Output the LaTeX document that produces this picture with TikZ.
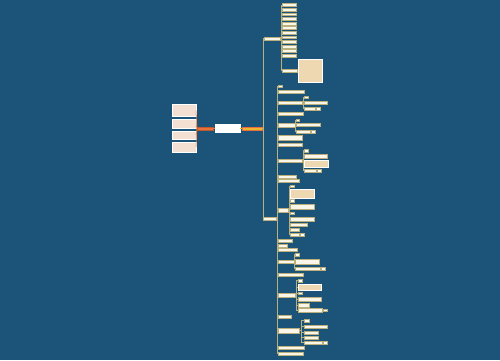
\documentclass[tikz,border=0pt]{standalone}
\usepackage{tikz}

\definecolor{bgc}{RGB}{27,84,120}
\definecolor{linec}{RGB}{186,176,126}
\definecolor{orangec}{RGB}{232,112,58}
\definecolor{yellowc}{RGB}{242,178,52}
\definecolor{creamc}{RGB}{250,246,234}
\definecolor{beigec}{RGB}{238,216,178}
\definecolor{pinkc}{RGB}{244,224,210}

\begin{document}
\begin{tikzpicture}[x=1pt,y=-1pt,
  link/.style={draw=linec,line width=0.7pt},
  box/.style={anchor=west,inner sep=0pt,outer sep=0pt,draw=linec,line width=0.4pt,fill=creamc},
  tag/.style={box,minimum width=4pt,minimum height=2.5pt,fill=white},
  note/.style={box,fill=beigec,draw=white,line width=0.6pt},
  item/.style={box,minimum height=3pt}]
\fill[bgc] (0,0) rectangle (500,360);
\useasboundingbox (0,0) rectangle (500,360);

% centre and first level
\node[box,fill=white,draw=white,minimum width=25pt,minimum height=8pt] (c) at (215,128.5) {};
\node[box,fill=orangec,draw=orangec!80!black,minimum width=16pt,minimum height=3.5pt] (l) at (197,128.5) {};
\node[box,fill=yellowc,draw=orangec,minimum width=20pt,minimum height=3.5pt] (r) at (242,128.5) {};
\draw[orangec,line width=0.7pt] (c.west) -- (l.east);
\draw[yellowc,line width=0.7pt] (c.east) -- (r.west);

% left notes
\node[note,fill=pinkc,minimum width=24pt,minimum height=12pt] (lb1) at (172,110.5) {};
\node[note,fill=pinkc,minimum width=24pt,minimum height=9pt] (lb2) at (172,123.5) {};
\node[note,fill=pinkc,minimum width=24pt,minimum height=8pt] (lb3) at (172,135) {};
\node[note,fill=pinkc,minimum width=24pt,minimum height=10pt] (lb4) at (172,147) {};
\foreach \n in {lb1,lb2,lb3,lb4}
  \draw[orangec,line width=0.5pt] (l.west) -- (\n.east);

% two branches
\node[item,minimum width=16pt] (t1) at (264,38.5) {};
\node[item,minimum width=13pt] (t2) at (263,218.5) {};
\foreach \n in {t1,t2}
  \draw[link] (r.east) -- ++(1,0) |- (\n.west);

% upper list
\foreach \i in {0,...,11}
  \node[item,minimum width=14pt,minimum height=2.8pt] (u\i) at (282,{5+4.6*\i}) {};
\node[item,minimum width=15pt] (u12) at (282,70.5) {};
\node[note,minimum width=24pt,minimum height=23pt] (un) at (298,70.5) {};
\foreach \i in {0,...,12}
  \draw[link] (t1.east) -- ++(1,0) |- (u\i.west);
\draw[link] (u12.east) -- (un.west);

% lower list
\node[tag] (a1) at (278,86) {};
\node[item,minimum width=26pt] (a2) at (278,91.5) {};
\node[item,minimum width=24pt] (a3) at (278,102.5) {};
\node[item,minimum width=25pt] (a4) at (278,113.5) {};
\node[item,minimum width=17pt,minimum height=3.5pt] (a5) at (278,125) {};
\node[item,minimum width=24pt,minimum height=5pt] (a6) at (278,137.5) {};
\node[item,minimum width=24pt] (a7) at (278,144.5) {};
\node[item,minimum width=24pt,minimum height=3.5pt] (a8) at (278,160.5) {};
\node[item,minimum width=18pt] (a9) at (278,176.5) {};
\node[item,minimum width=21pt] (a10) at (278,180.5) {};
\node[item,minimum width=10pt,minimum height=4pt] (a11) at (278,210.5) {};
\node[item,minimum width=14pt] (a12) at (278,240.5) {};
\node[item,minimum width=9pt] (a13) at (278,245.5) {};
\node[item,minimum width=19pt] (a14) at (278,249.5) {};
\node[item,minimum width=16pt,minimum height=3.5pt] (a15) at (278,261.5) {};
\node[item,minimum width=25pt] (a16) at (278,274.5) {};
\node[item,minimum width=17pt,minimum height=4pt] (a17) at (278,295) {};
\node[item,minimum width=13pt] (a18) at (278,316.5) {};
\node[item,minimum width=21pt,minimum height=4.5pt] (a19) at (278,330.5) {};
\node[item,minimum width=26pt] (a20) at (278,347.5) {};
\node[item,minimum width=25pt] (a21) at (278,353.5) {};
\foreach \i in {1,...,21}
  \draw[link] (t2.east) -- ++(1,0) |- (a\i.west);

% third level
\node[tag] (a3a) at (304,97) {};
\node[item,minimum width=23pt] (a3b) at (304,102.5) {};
\node[item,minimum width=11pt] (a3c) at (304,108.5) {};
\node[tag] (a3d) at (316,108.5) {};
\foreach \n in {a3a,a3b,a3c}
  \draw[link] (a3.east) -- ++(1,0) |- (\n.west);

\node[tag,minimum width=3pt] (a5a) at (296,120) {};
\node[item,minimum width=24pt] (a5b) at (296,125) {};
\node[item,minimum width=14pt] (a5c) at (296,131.5) {};
\node[tag,minimum width=3.5pt] (a5d) at (311.5,131.5) {};
\foreach \n in {a5a,a5b,a5c}
  \draw[link] (a5.east) -- ++(0.5,0) |- (\n.west);

\node[tag] (a8a) at (304,150.5) {};
\node[item,minimum width=23pt,minimum height=3.5pt] (a8b) at (304,156) {};
\node[note,minimum width=24pt,minimum height=7pt] (a8c) at (304,164) {};
\node[item,minimum width=12pt] (a8d) at (304,170.5) {};
\node[tag] (a8e) at (317,170.5) {};
\foreach \n in {a8a,a8b,a8c,a8d}
  \draw[link] (a8.east) -- ++(1,0) |- (\n.west);

\node[tag] (a11a) at (290,186) {};
\node[note,minimum width=24pt,minimum height=9pt] (a11b) at (290,193.5) {};
\node[tag] (a11c) at (290,200.5) {};
\node[item,minimum width=24pt,minimum height=5pt] (a11d) at (290,207) {};
\node[tag] (a11e) at (290,213) {};
\node[item,minimum width=24pt,minimum height=4pt] (a11f) at (290,219) {};
\node[item,minimum width=17pt] (a11g) at (290,224.5) {};
\node[item,minimum width=9pt] (a11h) at (290,229.5) {};
\node[item,minimum width=9pt] (a11i) at (290,234.5) {};
\node[tag] (a11j) at (300.5,234.5) {};
\foreach \n in {a11a,a11b,a11c,a11d,a11e,a11f,a11g,a11h,a11i}
  \draw[link] (a11.east) -- ++(1,0) |- (\n.west);

\node[tag] (a15a) at (295,254.5) {};
\node[item,minimum width=24pt,minimum height=4.5pt] (a15b) at (295,261.5) {};
\node[item,minimum width=25pt] (a15c) at (295,268.5) {};
\node[tag] (a15d) at (321,268.5) {};
\foreach \n in {a15a,a15b,a15c}
  \draw[link] (a15.east) -- ++(0.5,0) |- (\n.west);

\node[tag] (a17a) at (298,280.5) {};
\node[note,minimum width=23pt,minimum height=6pt] (a17b) at (298,287) {};
\node[tag] (a17c) at (298,293) {};
\node[item,minimum width=23pt,minimum height=4pt] (a17d) at (298,299) {};
\node[item,minimum width=11pt,minimum height=3.5pt] (a17e) at (298,305) {};
\node[item,minimum width=24pt,minimum height=3.5pt] (a17f) at (298,310) {};
\node[tag] (a17g) at (323,310) {};
\foreach \n in {a17a,a17b,a17c,a17d,a17e,a17f}
  \draw[link] (a17.east) -- ++(1.5,0) |- (\n.west);

\node[tag,minimum width=5pt] (a19a) at (304,320.5) {};
\node[item,minimum width=23pt] (a19b) at (304,326.5) {};
\node[item,minimum width=14pt] (a19c) at (304,332.5) {};
\node[item,minimum width=14pt] (a19d) at (304,337.5) {};
\node[item,minimum width=18pt] (a19e) at (304,342.5) {};
\node[tag] (a19f) at (323,342.5) {};
\foreach \n in {a19a,a19b,a19c,a19d,a19e}
  \draw[link] (a19.east) -- ++(2,0) |- (\n.west);

% small tags behind items
\draw[link] (a3c.east) -- (a3d.west);
\draw[link] (a5c.east) -- (a5d.west);
\draw[link] (a8d.east) -- (a8e.west);
\draw[link] (a11i.east) -- (a11j.west);
\draw[link] (a15c.east) -- (a15d.west);
\draw[link] (a17f.east) -- (a17g.west);
\draw[link] (a19e.east) -- (a19f.west);
\end{tikzpicture}
\end{document}
